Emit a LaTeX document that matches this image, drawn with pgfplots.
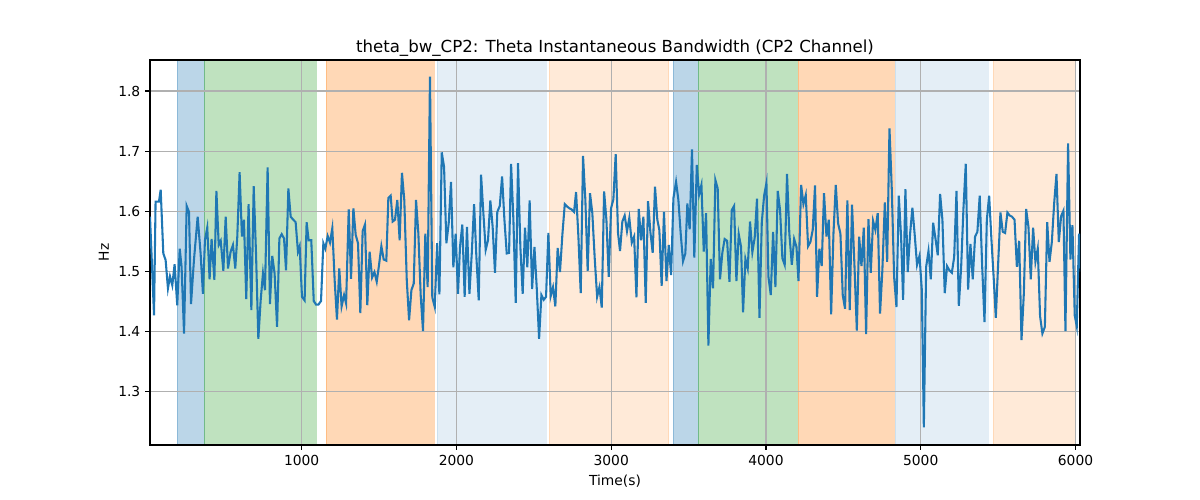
\documentclass[border=0pt]{standalone}
\usepackage{pgfplots}
\pgfplotsset{compat=1.18}
\usepackage{fontspec}
\setmainfont{DejaVu Sans}
\definecolor{tabblue}{HTML}{1F77B4}
\definecolor{tabgreen}{HTML}{2CA02C}
\definecolor{taborange}{HTML}{FF7F0E}
\definecolor{gridgray}{HTML}{B0B0B0}
\begin{document}
\begin{tikzpicture}
\begin{axis}[
  set layers, clip mode=individual,
  at={(0,0)}, anchor=south west,
  scale only axis, width=9.3in, height=3.85in,
  xmin=20, xmax=6029, ymin=1.2117, ymax=1.8515,
  xtick={1000,2000,3000,4000,5000,6000},
  ytick={1.3,1.4,1.5,1.6,1.7,1.8},
  yticklabel style={/pgf/number format/fixed,/pgf/number format/precision=1,/pgf/number format/fixed zerofill},
  scaled x ticks=false,
  /pgf/number format/assume math mode=true,
  /pgf/number format/1000 sep={},
  tick label style={font=\fontsize{10}{12}\selectfont},
  label style={font=\fontsize{10}{12}\selectfont},
  title style={font=\fontsize{12}{14}\selectfont, yshift=-7pt},
  title={theta\_bw\_CP2: Theta Instantaneous Bandwidth (CP2 Channel)},
  xlabel={Time(s)}, ylabel={Hz},
  grid=major, major grid style={gridgray, line width=0.8pt},
  axis line style={black, line width=0.8pt},
  tick style={black, line width=0.8pt},
  tick align=outside, major tick length=3.5pt,
  xtick pos=bottom, ytick pos=left,
  clip=true,
]
% shaded regions
\addplot[on layer=axis background, fill=tabblue, fill opacity=0.3, draw=tabblue, draw opacity=0.3, line width=0.5pt] coordinates {(196,1.1) (371,1.1) (371,1.9) (196,1.9)} -- cycle;
\addplot[on layer=axis background, fill=tabgreen, fill opacity=0.3, draw=tabgreen, draw opacity=0.3, line width=0.5pt] coordinates {(371,1.1) (1093,1.1) (1093,1.9) (371,1.9)} -- cycle;
\addplot[on layer=axis background, fill=taborange, fill opacity=0.3, draw=taborange, draw opacity=0.3, line width=0.5pt] coordinates {(1159,1.1) (1857,1.1) (1857,1.9) (1159,1.9)} -- cycle;
\addplot[on layer=axis background, fill=tabblue, fill opacity=0.12, draw=tabblue, draw opacity=0.12, line width=0.5pt] coordinates {(1875,1.1) (2581,1.1) (2581,1.9) (1875,1.9)} -- cycle;
\addplot[on layer=axis background, fill=taborange, fill opacity=0.16, draw=taborange, draw opacity=0.16, line width=0.5pt] coordinates {(2599,1.1) (3372,1.1) (3372,1.9) (2599,1.9)} -- cycle;
\addplot[on layer=axis background, fill=tabblue, fill opacity=0.3, draw=tabblue, draw opacity=0.3, line width=0.5pt] coordinates {(3402,1.1) (3563,1.1) (3563,1.9) (3402,1.9)} -- cycle;
\addplot[on layer=axis background, fill=tabgreen, fill opacity=0.3, draw=tabgreen, draw opacity=0.3, line width=0.5pt] coordinates {(3563,1.1) (4203,1.1) (4203,1.9) (3563,1.9)} -- cycle;
\addplot[on layer=axis background, fill=taborange, fill opacity=0.3, draw=taborange, draw opacity=0.3, line width=0.5pt] coordinates {(4208,1.1) (4828,1.1) (4828,1.9) (4208,1.9)} -- cycle;
\addplot[on layer=axis background, fill=tabblue, fill opacity=0.12, draw=tabblue, draw opacity=0.12, line width=0.5pt] coordinates {(4834,1.1) (5436,1.1) (5436,1.9) (4834,1.9)} -- cycle;
\addplot[on layer=axis background, fill=taborange, fill opacity=0.16, draw=taborange, draw opacity=0.16, line width=0.5pt] coordinates {(5470,1.1) (5998,1.1) (5998,1.9) (5470,1.9)} -- cycle;
% data
\addplot[tabblue, line width=1.5pt, mark=none] coordinates {
(20,1.591) (46,1.427) (56,1.616) (78,1.616) (89,1.636) (106,1.530) (121,1.519) (136,1.472) (149,1.492) (164,1.477)
(179,1.512) (196,1.444) (212,1.538) (224,1.508) (240,1.397) (257,1.609) (272,1.599) (285,1.446) (304,1.519) (328,1.591)
(347,1.530) (362,1.463) (375,1.552) (390,1.573) (405,1.487) (418,1.554) (436,1.486) (449,1.634) (464,1.544) (477,1.551)
(494,1.501) (509,1.591) (524,1.505) (541,1.533) (556,1.544) (571,1.505) (584,1.558) (599,1.665) (614,1.558) (627,1.586)
(642,1.454) (657,1.612) (675,1.436) (690,1.642) (705,1.530) (720,1.388) (735,1.452) (750,1.497) (763,1.469) (780,1.673)
(795,1.446) (810,1.526) (825,1.497) (841,1.408) (856,1.555) (871,1.562) (886,1.555) (899,1.502) (914,1.638) (929,1.591)
(946,1.586) (961,1.582) (976,1.533) (987,1.542) (1002,1.458) (1019,1.452) (1032,1.582)
(1045,1.552) (1062,1.552) (1078,1.451) (1093,1.445) (1108,1.445) (1125,1.451) (1140,1.547) (1153,1.538) (1168,1.559) (1183,1.548)
(1198,1.572) (1213,1.486) (1228,1.420) (1243,1.505) (1258,1.442) (1274,1.461) (1287,1.447) (1304,1.603) (1319,1.488) (1334,1.605)
(1349,1.561) (1364,1.547) (1379,1.431) (1394,1.567) (1409,1.578) (1424,1.444) (1439,1.533) (1455,1.490) (1470,1.499) (1485,1.483)
(1500,1.511) (1515,1.542) (1530,1.520) (1547,1.518) (1560,1.622) (1575,1.626) (1588,1.583) (1603,1.586) (1618,1.619) (1633,1.552)
(1648,1.664) (1663,1.619) (1679,1.486) (1694,1.419) (1709,1.469) (1724,1.480) (1739,1.619) (1754,1.563) (1769,1.461) (1784,1.401)
(1799,1.563) (1814,1.474) (1829,1.824) (1844,1.457) (1860,1.441) (1875,1.547) (1890,1.462) (1905,1.698) (1920,1.674) (1935,1.547)
(1950,1.580) (1965,1.649) (1980,1.507) (1995,1.563) (2010,1.463)
(2023,1.541) (2038,1.578) (2053,1.458) (2068,1.574) (2084,1.463) (2099,1.530) (2114,1.612) (2129,1.524) (2144,1.452) (2159,1.661)
(2174,1.597) (2189,1.536) (2204,1.552) (2219,1.618) (2234,1.574) (2249,1.498) (2264,1.599) (2280,1.609) (2295,1.658) (2310,1.586)
(2325,1.530) (2340,1.531) (2353,1.679) (2368,1.586) (2383,1.448) (2398,1.680) (2413,1.541) (2428,1.463) (2443,1.573) (2458,1.507)
(2473,1.618) (2489,1.471) (2504,1.541) (2519,1.472) (2534,1.388) (2549,1.461) (2564,1.453) (2579,1.458) (2594,1.564) (2609,1.459)
(2624,1.474) (2639,1.442) (2654,1.539) (2669,1.499) (2685,1.563) (2700,1.612) (2715,1.608) (2730,1.605) (2745,1.603) (2760,1.599)
(2773,1.632) (2788,1.558) (2803,1.464) (2818,1.692) (2833,1.619) (2848,1.501) (2863,1.630) (2878,1.597) (2893,1.524) (2909,1.458)
(2924,1.474) (2939,1.440) (2954,1.633) (2969,1.586) (2984,1.491) (2999,1.605)
(3014,1.620) (3029,1.695) (3044,1.564) (3057,1.534) (3072,1.583) (3087,1.593) (3102,1.567) (3117,1.589) (3133,1.548) (3148,1.558)
(3163,1.457) (3178,1.604) (3193,1.552) (3208,1.591) (3223,1.448) (3238,1.617) (3253,1.566) (3268,1.531) (3283,1.641) (3298,1.586)
(3311,1.569) (3326,1.476) (3341,1.599) (3357,1.484) (3372,1.544) (3387,1.494) (3402,1.622) (3419,1.649) (3434,1.619) (3449,1.563)
(3464,1.517) (3479,1.530) (3492,1.613) (3507,1.570) (3522,1.703) (3537,1.523) (3553,1.677) (3568,1.628) (3583,1.644) (3598,1.533)
(3613,1.597) (3628,1.377) (3643,1.521) (3658,1.472) (3673,1.652) (3688,1.638) (3703,1.487) (3718,1.531) (3733,1.554) (3749,1.551)
(3764,1.483) (3779,1.602) (3794,1.609) (3809,1.484) (3824,1.562) (3839,1.541) (3852,1.432) (3867,1.521) (3882,1.505) (3897,1.583)
(3912,1.532) (3927,1.556) (3942,1.621) (3958,1.423) (3973,1.582) (3988,1.626) (4003,1.647)
(4016,1.491) (4031,1.461) (4046,1.566) (4061,1.474) (4076,1.634) (4091,1.602) (4106,1.522) (4121,1.511) (4136,1.662) (4151,1.563)
(4167,1.511) (4182,1.554) (4197,1.541) (4210,1.484) (4227,1.644) (4242,1.612) (4257,1.627) (4272,1.542) (4287,1.549) (4302,1.569)
(4317,1.643) (4330,1.458) (4345,1.538) (4360,1.509) (4375,1.630) (4391,1.558) (4406,1.586) (4421,1.429) (4436,1.563) (4451,1.644)
(4466,1.580) (4481,1.563) (4496,1.461) (4511,1.438) (4526,1.618) (4541,1.436) (4556,1.611) (4572,1.508) (4587,1.402) (4602,1.558)
(4617,1.509) (4632,1.573) (4647,1.396) (4662,1.587) (4677,1.498) (4692,1.584) (4707,1.569) (4722,1.597) (4737,1.430) (4752,1.502)
(4768,1.615) (4783,1.516) (4798,1.738) (4813,1.636) (4828,1.491) (4843,1.441) (4858,1.626) (4873,1.558) (4886,1.453) (4901,1.637)
(4916,1.499) (4931,1.562) (4946,1.606) (4961,1.561) (4976,1.511) (4992,1.526) (5007,1.469) (5020,1.241)
(5035,1.508) (5050,1.534) (5065,1.487) (5080,1.581) (5095,1.555) (5110,1.527) (5125,1.629) (5140,1.586) (5155,1.464) (5170,1.509)
(5185,1.502) (5201,1.498) (5216,1.524) (5231,1.634) (5246,1.443) (5261,1.507) (5276,1.605) (5291,1.679) (5306,1.470) (5321,1.546)
(5336,1.487) (5351,1.558) (5366,1.566) (5381,1.626) (5397,1.508) (5412,1.416) (5427,1.586) (5442,1.626) (5457,1.552) (5472,1.486)
(5485,1.423) (5500,1.512) (5515,1.598) (5530,1.566) (5545,1.564) (5560,1.598) (5575,1.593) (5590,1.591) (5606,1.586) (5621,1.508)
(5636,1.551) (5651,1.386) (5666,1.463) (5681,1.604) (5696,1.574) (5711,1.487) (5726,1.573) (5741,1.516) (5756,1.538) (5771,1.426)
(5786,1.397) (5802,1.408) (5817,1.582) (5832,1.516) (5847,1.549) (5862,1.613) (5877,1.662) (5892,1.549) (5907,1.592) (5922,1.601)
(5935,1.401) (5952,1.713) (5967,1.520) (5980,1.577) (5995,1.427) (6008,1.409) (6023,1.563) (6035,1.500)
};
\end{axis}
\path[use as bounding box] (-1.5in,-0.55in) rectangle (10.5in,4.45in);
\end{tikzpicture}
\end{document}
